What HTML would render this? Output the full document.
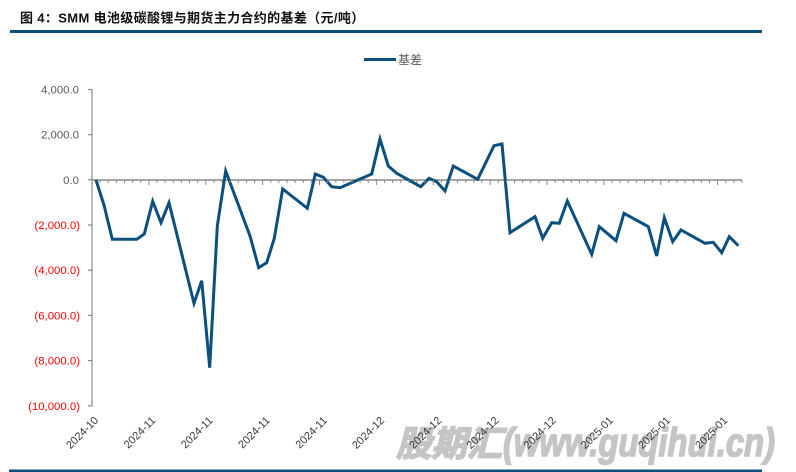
<!DOCTYPE html>
<html><head><meta charset="utf-8">
<style>
html,body{margin:0;padding:0;background:#fff;}
svg{display:block;}
</style></head>
<body>
<svg width="796" height="472" viewBox="0 0 796 472" xmlns="http://www.w3.org/2000/svg">
<rect width="796" height="472" fill="#fff"/>
<!-- title -->
<text x="20" y="22.5" font-family="'Liberation Sans','Noto Sans CJK SC',sans-serif" font-size="13" font-weight="bold" fill="#111" letter-spacing="0.35">图 4：SMM 电池级碳酸锂与期货主力合约的基差（元/吨）</text>
<rect x="10" y="30" width="752" height="3" fill="#0b4d7b"/>
<!-- watermark -->
<g fill="#c5c5c5" stroke="#c5c5c5" stroke-width="1.6" font-weight="bold" font-style="italic">
<text x="396" y="456" font-family="'Noto Sans CJK SC',sans-serif" font-size="35" textLength="106" lengthAdjust="spacingAndGlyphs">股期汇</text>
<text x="503" y="456" font-family="'Liberation Sans',sans-serif" font-size="40" textLength="272" lengthAdjust="spacingAndGlyphs">(www.guqihui.cn)</text>
</g>
<!-- legend -->
<line x1="364" y1="59.5" x2="396" y2="59.5" stroke="#0b4f7e" stroke-width="3"/>
<text x="398" y="64" font-family="'Liberation Sans','Noto Sans CJK SC',sans-serif" font-size="12" fill="#595959">基差</text>
<!-- y axis -->
<line x1="92" y1="89" x2="92" y2="406.5" stroke="#888" stroke-width="1.2"/>
<g stroke="#888" stroke-width="1.2">
<line x1="88" y1="89.5" x2="92" y2="89.5"/>
<line x1="88" y1="134.7" x2="92" y2="134.7"/>
<line x1="88" y1="179.8" x2="92" y2="179.8"/>
<line x1="88" y1="225" x2="92" y2="225"/>
<line x1="88" y1="270.2" x2="92" y2="270.2"/>
<line x1="88" y1="315.4" x2="92" y2="315.4"/>
<line x1="88" y1="360.6" x2="92" y2="360.6"/>
<line x1="88" y1="405.8" x2="92" y2="405.8"/>
</g>
<g font-family="'Liberation Sans',sans-serif" font-size="11.4" text-anchor="end">
<text x="79" y="93.5" fill="#595959">4,000.0</text>
<text x="79" y="138.7" fill="#595959">2,000.0</text>
<text x="79" y="183.8" fill="#595959">0.0</text>
<text x="80" y="229" fill="#ff0000">(2,000.0)</text>
<text x="80" y="274.2" fill="#ff0000">(4,000.0)</text>
<text x="80" y="319.4" fill="#ff0000">(6,000.0)</text>
<text x="80" y="364.6" fill="#ff0000">(8,000.0)</text>
<text x="80" y="409.8" fill="#ff0000">(10,000.0)</text>
</g>
<!-- x axis -->
<line x1="92" y1="180" x2="742" y2="180" stroke="#888" stroke-width="1.5"/>
<!-- series -->
<polyline fill="none" stroke="#0b4f7e" stroke-width="3" stroke-linejoin="miter" stroke-miterlimit="4" points="96,180 104,205 112.3,239.3 136.7,239.3 144.3,234 152.7,201.3 161,222.7 169,202.7 194,303.3 201.7,280.7 209.7,367.7 217.3,226 225.7,171 250,236 258.7,267.7 266.7,262.7 274.3,238.3 282.7,189 307.3,208.3 315.3,174 323.3,177.3 331.7,186.7 340,187.7 371.7,174 380,139 388.3,166 396.7,173.3 420.7,186.7 429,178.3 436.7,181.7 445,191 453.3,166 477.7,179.3 494,145.7 502,144 510,232.7 535,216.7 542.7,238.3 551.7,222.7 559.3,223.3 567.3,201 591.7,254.3 599.3,226.7 616,240.7 624,213.3 648.3,226.7 656.7,256 664.3,217.7 672.7,241.7 681,230 705,243.3 713.3,242.3 721.7,252.7 729.3,236.7 738.3,245.7"/>
<!-- x tick marks -->
<g stroke="#888" stroke-width="1">
<line x1="100.1" y1="180" x2="100.1" y2="183"/><line x1="108.3" y1="180" x2="108.3" y2="183"/><line x1="116.4" y1="180" x2="116.4" y2="183"/><line x1="124.5" y1="180" x2="124.5" y2="183"/><line x1="132.6" y1="180" x2="132.6" y2="183"/><line x1="140.8" y1="180" x2="140.8" y2="183"/><line x1="148.9" y1="180" x2="148.9" y2="185"/>
<line x1="157" y1="180" x2="157" y2="183"/><line x1="165.1" y1="180" x2="165.1" y2="183"/><line x1="173.3" y1="180" x2="173.3" y2="183"/><line x1="181.4" y1="180" x2="181.4" y2="183"/><line x1="189.5" y1="180" x2="189.5" y2="183"/><line x1="197.6" y1="180" x2="197.6" y2="183"/><line x1="205.8" y1="180" x2="205.8" y2="185"/>
<line x1="213.9" y1="180" x2="213.9" y2="183"/><line x1="222" y1="180" x2="222" y2="183"/><line x1="230.1" y1="180" x2="230.1" y2="183"/><line x1="238.3" y1="180" x2="238.3" y2="183"/><line x1="246.4" y1="180" x2="246.4" y2="183"/><line x1="254.5" y1="180" x2="254.5" y2="183"/><line x1="262.6" y1="180" x2="262.6" y2="185"/>
<line x1="270.8" y1="180" x2="270.8" y2="183"/><line x1="278.9" y1="180" x2="278.9" y2="183"/><line x1="287" y1="180" x2="287" y2="183"/><line x1="295.1" y1="180" x2="295.1" y2="183"/><line x1="303.3" y1="180" x2="303.3" y2="183"/><line x1="311.4" y1="180" x2="311.4" y2="183"/><line x1="319.5" y1="180" x2="319.5" y2="185"/>
<line x1="327.6" y1="180" x2="327.6" y2="183"/><line x1="335.8" y1="180" x2="335.8" y2="183"/><line x1="343.9" y1="180" x2="343.9" y2="183"/><line x1="352" y1="180" x2="352" y2="183"/><line x1="360.1" y1="180" x2="360.1" y2="183"/><line x1="368.3" y1="180" x2="368.3" y2="183"/><line x1="376.4" y1="180" x2="376.4" y2="185"/>
<line x1="384.5" y1="180" x2="384.5" y2="183"/><line x1="392.6" y1="180" x2="392.6" y2="183"/><line x1="400.8" y1="180" x2="400.8" y2="183"/><line x1="408.9" y1="180" x2="408.9" y2="183"/><line x1="417" y1="180" x2="417" y2="183"/><line x1="425.1" y1="180" x2="425.1" y2="183"/><line x1="433.3" y1="180" x2="433.3" y2="185"/>
<line x1="441.4" y1="180" x2="441.4" y2="183"/><line x1="449.5" y1="180" x2="449.5" y2="183"/><line x1="457.6" y1="180" x2="457.6" y2="183"/><line x1="465.8" y1="180" x2="465.8" y2="183"/><line x1="473.9" y1="180" x2="473.9" y2="183"/><line x1="482" y1="180" x2="482" y2="183"/><line x1="490.1" y1="180" x2="490.1" y2="185"/>
<line x1="498.3" y1="180" x2="498.3" y2="183"/><line x1="506.4" y1="180" x2="506.4" y2="183"/><line x1="514.5" y1="180" x2="514.5" y2="183"/><line x1="522.6" y1="180" x2="522.6" y2="183"/><line x1="530.8" y1="180" x2="530.8" y2="183"/><line x1="538.9" y1="180" x2="538.9" y2="183"/><line x1="547" y1="180" x2="547" y2="185"/>
<line x1="555.1" y1="180" x2="555.1" y2="183"/><line x1="563.3" y1="180" x2="563.3" y2="183"/><line x1="571.4" y1="180" x2="571.4" y2="183"/><line x1="579.5" y1="180" x2="579.5" y2="183"/><line x1="587.6" y1="180" x2="587.6" y2="183"/><line x1="595.8" y1="180" x2="595.8" y2="183"/><line x1="603.9" y1="180" x2="603.9" y2="185"/>
<line x1="612" y1="180" x2="612" y2="183"/><line x1="620.1" y1="180" x2="620.1" y2="183"/><line x1="628.3" y1="180" x2="628.3" y2="183"/><line x1="636.4" y1="180" x2="636.4" y2="183"/><line x1="644.5" y1="180" x2="644.5" y2="183"/><line x1="652.6" y1="180" x2="652.6" y2="183"/><line x1="660.8" y1="180" x2="660.8" y2="185"/>
<line x1="668.9" y1="180" x2="668.9" y2="183"/><line x1="677" y1="180" x2="677" y2="183"/><line x1="685.1" y1="180" x2="685.1" y2="183"/><line x1="693.3" y1="180" x2="693.3" y2="183"/><line x1="701.4" y1="180" x2="701.4" y2="183"/><line x1="709.5" y1="180" x2="709.5" y2="183"/><line x1="717.6" y1="180" x2="717.6" y2="185"/>
<line x1="725.8" y1="180" x2="725.8" y2="183"/><line x1="733.9" y1="180" x2="733.9" y2="183"/><line x1="742" y1="180" x2="742" y2="183"/>
</g>
<!-- x labels -->
<g font-family="'Liberation Sans',sans-serif" font-size="11" fill="#3a3a3a" text-anchor="end">
<text transform="translate(99,421) rotate(-45)">2024-10</text>
<text transform="translate(156.2,421) rotate(-45)">2024-11</text>
<text transform="translate(213.4,421) rotate(-45)">2024-11</text>
<text transform="translate(270.6,421) rotate(-45)">2024-11</text>
<text transform="translate(327.8,421) rotate(-45)">2024-11</text>
<text transform="translate(385,421) rotate(-45)">2024-12</text>
<text transform="translate(442.2,421) rotate(-45)">2024-12</text>
<text transform="translate(499.4,421) rotate(-45)">2024-12</text>
<text transform="translate(556.6,421) rotate(-45)">2024-12</text>
<text transform="translate(613.8,421) rotate(-45)">2025-01</text>
<text transform="translate(671,421) rotate(-45)">2025-01</text>
<text transform="translate(728.2,421) rotate(-45)">2025-01</text>
</g>
<!-- bottom rule -->
<rect x="9" y="469.5" width="753" height="2.5" fill="#0b4d7b"/>
</svg>
</body></html>
